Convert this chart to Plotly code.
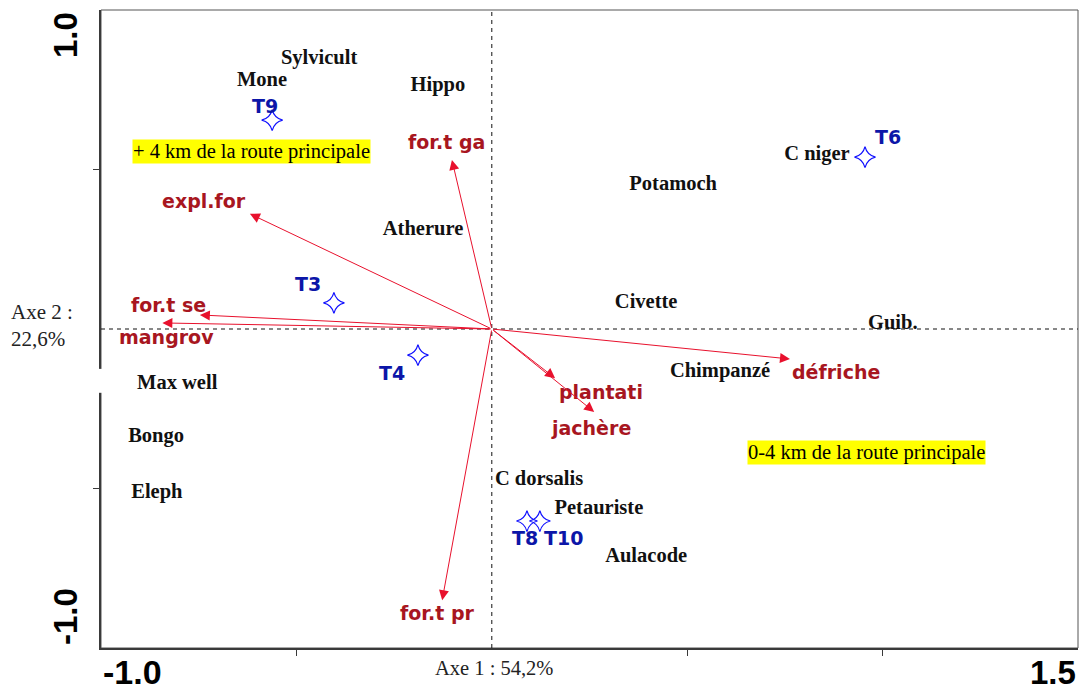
import plotly.graph_objects as go

# ---------------- data ----------------
species = ["Sylvicult", "Mone", "Hippo", "Atherure", "Potamoch", "C niger", "Civette",
           "Guib.", "Chimpanzé", "Max well", "Bongo", "Eleph", "C dorsalis",
           "Petauriste", "Aulacode"]
species_x = [-0.442, -0.588, -0.138, -0.176, 0.464, 0.832, 0.395,
             1.026, 0.584, -0.805, -0.859, -0.857, 0.121, 0.274, 0.395]
species_y = [0.846, 0.777, 0.762, 0.310, 0.451, 0.545, 0.082,
             0.016, -0.135, -0.172, -0.339, -0.514, -0.473, -0.564, -0.715]

sites = ["T9", "T6", "T3", "T4", "T8", "T10"]
site_x = [-0.562, 0.955, -0.404, -0.189, 0.090, 0.123]
site_y = [0.655, 0.539, 0.082, -0.082, -0.602, -0.602]

variables = ["for.t ga", "expl.for", "for.t se", "mangrov", "défriche",
             "plantati", "jachère", "for.t pr"]
var_x = [-0.102, -0.619, -0.747, -0.843, 0.763, 0.162, 0.262, -0.127]
var_y = [0.530, 0.361, 0.044, 0.019, -0.094, -0.154, -0.260, -0.850]

zones = ["+ 4 km de la route principale", "0-4 km de la route principale"]
zone_x = [-0.614, 0.958]
zone_y = [0.555, -0.386]

x_range = [-1.0, 1.5]
y_range = [-1.0, 1.0]
x_tick_labels = ["-1.0", "1.5"]
y_tick_labels = ["1.0", "-1.0"]
axis1_title = "Axe 1 : 54,2%"
axis2_title = ["Axe 2 :", "22,6%"]

# ---------------- styling (label offsets in pixels) ----------------
site_shift = {"T9": (-7, 14), "T6": (23, 20), "T3": (-26, 19), "T4": (-26, -18),
              "T8": (-2, -17), "T10": (24, -17)}
var_shift = {"for.t ga": (-5, 18), "expl.for": (-46, 13), "for.t se": (-31, 10),
             "mangrov": (4, -14), "défriche": (46, -13), "plantati": (46, -14),
             "jachère": (-3, -16), "for.t pr": (-5, -13)}

SERIF = "Liberation Serif"
SANS = "DejaVu Sans"
RED = "#e8112d"
LABEL_RED = "#a8161f"
BLUE = "#1010ff"
SITE_BLUE = "#0c16a8"

fig = go.Figure()

# species labels (text placed at their coordinates)
fig.add_trace(go.Scatter(
    x=species_x, y=species_y, mode="text", text=species,
    textposition="middle center",
    textfont=dict(family=SERIF, size=20.5, color="#111111", weight="bold"),
    hoverinfo="skip", showlegend=False))

# site markers
fig.add_trace(go.Scatter(
    x=site_x, y=site_y, mode="markers",
    marker=dict(symbol="star-diamond-open", size=15, color=BLUE,
                line=dict(width=1.2, color=BLUE)),
    hoverinfo="skip", showlegend=False))

annotations = []

# arrows for environmental variables
for name, vx, vy in zip(variables, var_x, var_y):
    annotations.append(dict(
        x=vx, y=vy, ax=0, ay=0, xref="x", yref="y", axref="x", ayref="y",
        text="", showarrow=True, arrowhead=2, arrowsize=2, arrowwidth=1,
        arrowcolor=RED))
    dx, dy = var_shift[name]
    annotations.append(dict(
        x=vx, y=vy, xref="x", yref="y", text=name, showarrow=False,
        xshift=dx, yshift=dy,
        font=dict(family=SANS, size=19, color=LABEL_RED, weight="bold")))

# site labels
for name, sx, sy in zip(sites, site_x, site_y):
    dx, dy = site_shift[name]
    annotations.append(dict(
        x=sx, y=sy, xref="x", yref="y", text=name, showarrow=False,
        xshift=dx, yshift=dy,
        font=dict(family=SANS, size=19, color=SITE_BLUE, weight="bold")))

# yellow zone boxes
for name, zx, zy in zip(zones, zone_x, zone_y):
    annotations.append(dict(
        x=zx, y=zy, xref="x", yref="y", text=name, showarrow=False,
        bgcolor="#ffff00", borderpad=0,
        font=dict(family=SERIF, size=20.5, color="#000000")))

# big axis end labels
annotations += [
    dict(x=0, y=0, xref="paper", yref="paper", text=x_tick_labels[0], showarrow=False,
         xanchor="left", yanchor="middle", yshift=-24,
         font=dict(family="Liberation Sans", size=34, color="#000", weight="bold")),
    dict(x=1, y=0, xref="paper", yref="paper", text=x_tick_labels[1], showarrow=False,
         xanchor="right", yanchor="middle", yshift=-24,
         font=dict(family="Liberation Sans", size=33, color="#000", weight="bold")),
    dict(x=0, y=1, xref="paper", yref="paper", text=y_tick_labels[0], showarrow=False,
         xanchor="center", yanchor="middle", xshift=-36, yshift=-25, textangle=-90,
         font=dict(family="Liberation Sans", size=33, color="#000", weight="bold")),
    dict(x=0, y=0, xref="paper", yref="paper", text=y_tick_labels[1], showarrow=False,
         xanchor="center", yanchor="middle", xshift=-36, yshift=31, textangle=-90,
         font=dict(family="Liberation Sans", size=33, color="#000", weight="bold")),
    dict(x=0.005, y=0, xref="x", yref="paper", text=axis1_title, showarrow=False,
         xanchor="center", yanchor="middle", yshift=-20,
         font=dict(family=SERIF, size=20.5, color="#222")),
    dict(x=0, y=0.01, xref="paper", yref="y", text="<br>".join(axis2_title),
         showarrow=False, xanchor="left", yanchor="middle", align="left", xshift=-92,
         font=dict(family=SERIF, size=21, color="#222")),
]

shapes = [
    # frame (top / right thin)
    dict(type="rect", xref="paper", yref="paper", x0=0, y0=0, x1=1, y1=1,
         line=dict(color="#555555", width=1), layer="below"),
    # dashed origin lines
    dict(type="line", xref="x", yref="paper", x0=0, x1=0, y0=0, y1=1,
         line=dict(color="#111111", width=1, dash="4px,4px")),
    dict(type="line", xref="paper", yref="y", x0=0, x1=1, y0=0, y1=0,
         line=dict(color="#111111", width=1, dash="4px,4px")),
    # small break in left axis line
    dict(type="rect", xref="paper", yref="y", x0=-0.006, x1=0.004, y0=-0.2, y1=-0.125,
         fillcolor="white", line=dict(width=0), layer="above"),
]

fig.update_layout(
    width=1083, height=690,
    margin=dict(l=101, r=5, t=10, b=42),
    paper_bgcolor="white", plot_bgcolor="white",
    xaxis=dict(range=x_range, showgrid=False, zeroline=False, showline=True,
               linewidth=2, linecolor="#3a3a3a", ticks="outside", ticklen=6,
               tickcolor="#3a3a3a", tickvals=[-0.5, 0.5, 1.0], showticklabels=False,
               fixedrange=True),
    yaxis=dict(range=y_range, showgrid=False, zeroline=False, showline=True,
               linewidth=2, linecolor="#3a3a3a", ticks="outside", ticklen=6,
               tickcolor="#3a3a3a", tickvals=[-0.5, 0.5], showticklabels=False,
               fixedrange=True),
    annotations=annotations,
    shapes=shapes,
    showlegend=False,
)

fig.write_html("out.html")
